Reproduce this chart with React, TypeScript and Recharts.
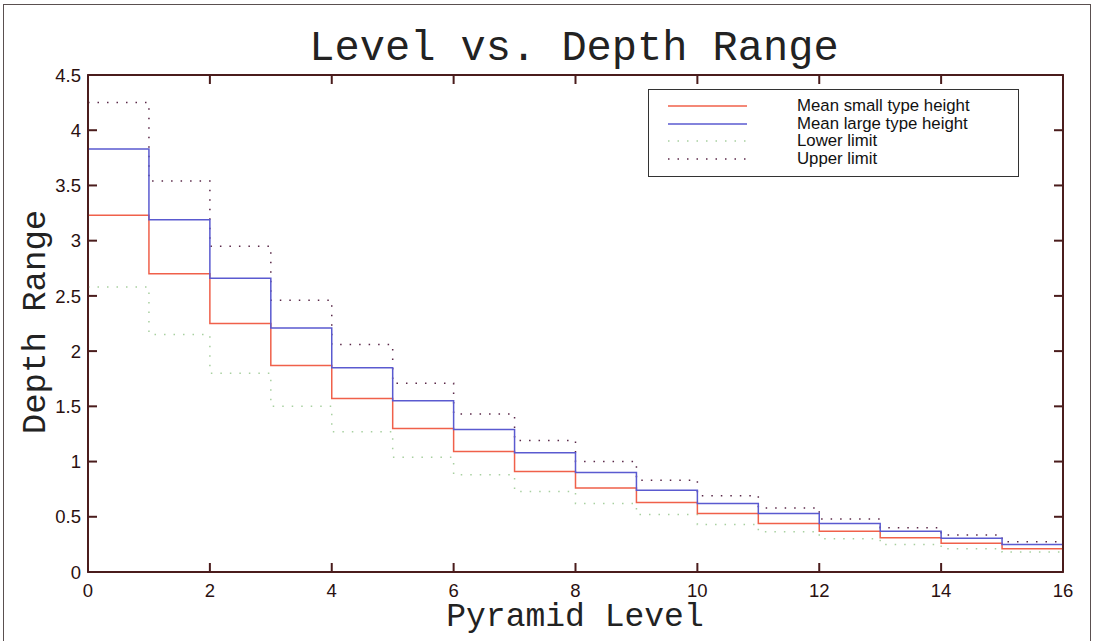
import React from 'react';
import { LineChart, Line, XAxis, YAxis, ReferenceArea } from 'recharts';

const levels = [0, 1, 2, 3, 4, 5, 6, 7, 8, 9, 10, 11, 12, 13, 14, 15, 16];
const meanSmall = [3.23, 2.7, 2.25, 1.87, 1.57, 1.3, 1.09, 0.91, 0.76, 0.63, 0.53, 0.44, 0.37, 0.31, 0.26, 0.21, 0.21];
const meanLarge = [3.83, 3.19, 2.66, 2.21, 1.85, 1.55, 1.29, 1.08, 0.9, 0.74, 0.62, 0.53, 0.44, 0.37, 0.305, 0.25, 0.25];
const upperLimit = [4.25, 3.54, 2.95, 2.46, 2.06, 1.71, 1.43, 1.19, 1.0, 0.83, 0.69, 0.58, 0.48, 0.4, 0.335, 0.275, 0.275];
const lowerLimit = [2.58, 2.15, 1.8, 1.5, 1.27, 1.04, 0.88, 0.73, 0.62, 0.52, 0.43, 0.365, 0.3, 0.25, 0.21, 0.18, 0.18];
const xTicks = [0, 2, 4, 6, 8, 10, 12, 14, 16];
const yTicks = [0, 0.5, 1, 1.5, 2, 2.5, 3, 3.5, 4, 4.5];
const xDomain = [0, 16];
const yDomain = [0, 4.5];
const seriesNames = ['Mean small type height', 'Mean large type height', 'Lower limit', 'Upper limit'];

const data = levels.map((lv, i) => ({
  level: lv,
  small: meanSmall[i],
  large: meanLarge[i],
  lower: lowerLimit[i],
  upper: upperLimit[i],
}));

const AXIS = '#4a1c1c';
const TICK_TEXT = '#2a1010';
const RED = '#f0604a';
const BLUE = '#5a5ad0';
const UPPER = '#5a2848';
const LOWER = '#a8d0a0';
const TICKFONT = '"Liberation Sans", Arial, sans-serif';
const MONO = '"Liberation Mono", "Courier New", monospace';

const LeftTick = (props: any) => {
  const { x, y, payload } = props;
  return (
    <g>
      <line x1={x} x2={x + 9} y1={y} y2={y} stroke={AXIS} strokeWidth={2} />
      <text x={x - 7} y={y} dy="0.36em" textAnchor="end" fontFamily={TICKFONT} fontSize={18.5} fill={TICK_TEXT}>
        {payload.value}
      </text>
    </g>
  );
};
const RightTick = (props: any) => {
  const { x, y } = props;
  return <line x1={x - 9} x2={x} y1={y} y2={y} stroke={AXIS} strokeWidth={2} />;
};
const BottomTick = (props: any) => {
  const { x, y, payload } = props;
  return (
    <g>
      <line x1={x} x2={x} y1={y - 9} y2={y} stroke={AXIS} strokeWidth={2} />
      <text x={x} y={y + 25} textAnchor="middle" fontFamily={TICKFONT} fontSize={18.5} fill={TICK_TEXT}>
        {payload.value}
      </text>
    </g>
  );
};
const TopTick = (props: any) => {
  const { x, y } = props;
  return <line x1={x} x2={x} y1={y} y2={y + 9} stroke={AXIS} strokeWidth={2} />;
};

const legendItems = [
  { name: seriesNames[0], color: RED, dash: undefined as string | undefined },
  { name: seriesNames[1], color: BLUE, dash: undefined as string | undefined },
  { name: seriesNames[2], color: LOWER, dash: '1.5 8' },
  { name: seriesNames[3], color: UPPER, dash: '1.5 8' },
];

export default function App() {
  return (
    <div style={{ position: 'absolute', left: 0, top: 0, width: 1095, height: 641, background: '#fff', overflow: 'hidden' }}>
      <div style={{ position: 'absolute', left: 3, top: 4, width: 1088, height: 660, border: '1.5px solid #5a5050', boxSizing: 'border-box' }} />
      <LineChart width={1095} height={641} data={data} margin={{ top: 74, right: 31, bottom: 39, left: 28 }}>
        <XAxis
          xAxisId="b"
          dataKey="level"
          type="number"
          domain={xDomain}
          ticks={xTicks}
          interval={0}
          height={30}
          tickSize={0}
          tickMargin={0}
          tickLine={false}
          axisLine={{ stroke: AXIS, strokeWidth: 1.8 }}
          tick={<BottomTick />}
        />
        <XAxis
          xAxisId="t"
          orientation="top"
          dataKey="level"
          type="number"
          domain={xDomain}
          ticks={xTicks}
          interval={0}
          height={1}
          tickSize={0}
          tickMargin={0}
          tickLine={false}
          axisLine={{ stroke: AXIS, strokeWidth: 1.8 }}
          tick={<TopTick />}
        />
        <YAxis
          yAxisId="l"
          type="number"
          domain={yDomain}
          ticks={yTicks}
          interval={0}
          width={60}
          tickSize={0}
          tickMargin={0}
          tickLine={false}
          axisLine={{ stroke: AXIS, strokeWidth: 1.8 }}
          tick={<LeftTick />}
        />
        <YAxis
          yAxisId="r"
          orientation="right"
          type="number"
          domain={yDomain}
          ticks={yTicks}
          interval={0}
          width={1}
          tickSize={0}
          tickMargin={0}
          tickLine={false}
          axisLine={{ stroke: AXIS, strokeWidth: 1.8 }}
          tick={<RightTick />}
        />
        <ReferenceArea
          xAxisId="b"
          yAxisId="l"
          x1={xDomain[0]}
          x2={xDomain[1]}
          y1={yDomain[0]}
          y2={yDomain[1]}
          fill="none"
          fillOpacity={0}
          stroke={AXIS}
          strokeWidth={1.8}
          ifOverflow="visible"
        />
        <Line xAxisId="t" yAxisId="r" type="stepAfter" dataKey="upper" stroke="none" strokeWidth={0} dot={false} activeDot={false} legendType="none" isAnimationActive={false} />
        <Line xAxisId="b" yAxisId="l" type="stepAfter" dataKey="lower" stroke={LOWER} strokeWidth={1.5} strokeDasharray="1.5 8" dot={false} activeDot={false} isAnimationActive={false} />
        <Line xAxisId="b" yAxisId="l" type="stepAfter" dataKey="upper" stroke={UPPER} strokeWidth={1.5} strokeDasharray="1.5 8" dot={false} activeDot={false} isAnimationActive={false} />
        <Line xAxisId="b" yAxisId="l" type="stepAfter" dataKey="small" stroke={RED} strokeWidth={1.5} dot={false} activeDot={false} isAnimationActive={false} />
        <Line xAxisId="b" yAxisId="l" type="stepAfter" dataKey="large" stroke={BLUE} strokeWidth={1.5} dot={false} activeDot={false} isAnimationActive={false} />
      </LineChart>
      <div style={{ position: 'absolute', left: 0, top: 27, width: 1148, textAlign: 'center', fontFamily: MONO, fontSize: 42, lineHeight: '44px', color: '#222' }}>
        Level vs. Depth Range
      </div>
      <div style={{ position: 'absolute', left: 0, top: 602, width: 1150, textAlign: 'center', fontFamily: MONO, fontSize: 33, lineHeight: '32px', color: '#222' }}>
        Pyramid Level
      </div>
      <div style={{ position: 'absolute', left: 36, top: 322, width: 0, height: 0 }}>
        <div style={{ position: 'absolute', left: -150, top: -17, width: 300, textAlign: 'center', transform: 'rotate(-90deg)', fontFamily: MONO, fontSize: 34, lineHeight: '34px', color: '#222' }}>
          Depth Range
        </div>
      </div>
      <div style={{ position: 'absolute', left: 648, top: 89, width: 371, height: 88, border: '1.5px solid #333', boxSizing: 'border-box', background: '#fff' }}>
        {legendItems.map((it, i) => (
          <div key={it.name} style={{ position: 'absolute', left: 0, top: 7 + i * 17.6, height: 18, width: 368 }}>
            <svg width={100} height={18} style={{ position: 'absolute', left: 19, top: 0 }}>
              <line x1={0} x2={79} y1={9} y2={9} stroke={it.color} strokeWidth={1.5} strokeDasharray={it.dash} />
            </svg>
            <span style={{ position: 'absolute', left: 148, top: 0, fontFamily: TICKFONT, fontSize: 16.8, lineHeight: '18px', color: '#111', whiteSpace: 'nowrap' }}>
              {it.name}
            </span>
          </div>
        ))}
      </div>
    </div>
  );
}
